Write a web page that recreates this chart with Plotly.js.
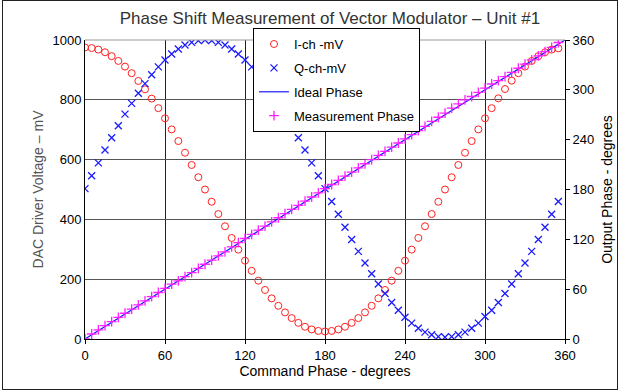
<!DOCTYPE html>
<html>
<head>
<meta charset="utf-8">
<script src="https://cdn.plot.ly/plotly-3.0.1.min.js"></script>
<style>
  html, body { margin: 0; padding: 0; background: #fff; }
  #wrap { position: relative; width: 619px; height: 391px; }
  #chart { width: 619px; height: 391px; }
  #frame { position: absolute; left: 2px; top: 0px; width: 614px; height: 388px; border: 1px solid #222; pointer-events: none; }
</style>
</head>
<body>
<div id="wrap"><div id="chart"></div><div id="frame"></div></div>
<script>
// Command phase in degrees
const commandPhase = [0,5,10,15,20,25,30,35,40,45,50,55,60,65,70,75,80,85,90,95,100,105,110,115,120,125,130,135,140,145,150,155,160,165,170,175,180,185,190,195,200,205,210,215,220,225,230,235,240,245,250,255,260,265,270,275,280,285,290,295,300,305,310,315,320,325,330,335,340,345,350,355];

// I channel (mV)
const iChannel = [975,973,968,959,946,930,911,889,863,835,804,772,738,701,662,623,582,541,500,459,418,377,338,299,262,228,195,164,136,111,89,70,54,41,32,27,25,27,32,41,54,70,89,111,136,164,195,228,262,299,338,377,418,459,500,541,582,623,662,701,738,772,805,836,864,889,911,930,946,959,968,972];

// Q channel (mV)
const qChannel = [503,546,589,632,673,713,752,788,822,854,884,910,933,953,970,983,992,998,1000,998,992,983,970,953,933,910,884,854,822,788,752,713,673,632,589,546,503,460,417,374,333,293,254,218,184,152,122,96,73,53,36,23,14,8,6,8,14,23,36,53,75,96,122,152,184,218,254,293,333,374,417,460];

// Ideal phase (degrees)
const idealX = [0,360];
const idealPhase = [0,360];

// Measured output phase (degrees)
const measuredPhase = [0,6,11,16,21,26,31,36,41,46,51,56,61,66,70,75,80,85,90,95,100,105,111,116,121,126,131,136,141,146,151,156,161,166,171,176,181,186,191,196,201,206,211,216,221,226,231,236,241,246,251,256,262,267,272,278,283,288,292,297,302,307,311,316,321,326,331,336,341,346,351,357];

const leftTicks = [0,200,400,600,800,1000];
const rightTicks = [0,60,120,180,240,300,360];
const xTicks = [0,60,120,180,240,300,360];

const font = "Liberation Sans, Arial, sans-serif";

const traces = [
  {x: commandPhase, y: iChannel, name: 'I-ch -mV', mode: 'markers', type: 'scatter', legendgroup: 'a',
   marker: {symbol: 'circle-open', size: 7, color: '#ff2020', line: {width: 1}}},
  {x: commandPhase, y: qChannel, name: 'Q-ch-mV', mode: 'markers', type: 'scatter', legendgroup: 'b',
   marker: {symbol: 'x-thin-open', size: 7, color: '#1a1aff', line: {width: 1.3, color: '#1a1aff'}}},
  {x: idealX, y: idealPhase, name: 'Ideal Phase', mode: 'lines', type: 'scatter', yaxis: 'y2', legendgroup: 'c',
   line: {color: '#1a1aff', width: 1.2}},
  {x: commandPhase, y: measuredPhase, name: 'Measurement Phase', mode: 'markers', type: 'scatter', yaxis: 'y2', legendgroup: 'd',
   marker: {symbol: 'cross-thin-open', size: 7, color: '#ff20ff', line: {width: 1.3, color: '#ff20ff'}}}
];

const layout = {
  width: 619, height: 391,
  margin: {l: 85, r: 54, t: 40, b: 52},
  paper_bgcolor: '#fff', plot_bgcolor: '#fff',
  font: {family: font, size: 12, color: '#000'},
  title: {text: 'Phase Shift Measurement of Vector Modulator \u2013 Unit #1', font: {family: font, size: 17, color: '#333'},
          x: 0.533, xanchor: 'center', y: 0.955, yanchor: 'middle'},
  showlegend: true,
  legend: {x: 0.35, xanchor: 'left', y: 1.04, yanchor: 'top', bgcolor: '#fff', bordercolor: '#000', borderwidth: 1,
           font: {family: font, size: 13, color: '#000'}, tracegroupgap: 4, itemwidth: 30},
  xaxis: {range: [0,360], tickvals: xTicks, ticktext: xTicks.map(String), showgrid: true, gridcolor: '#222', gridwidth: 1,
          zeroline: false, showline: true, linecolor: '#000', linewidth: 1, mirror: false,
          ticks: 'outside', ticklen: 4, tickcolor: '#000',
          title: {text: 'Command Phase - degrees', font: {family: font, size: 14, color: '#000'}, standoff: 2},
          tickfont: {family: font, size: 13}},
  yaxis: {range: [0,1000], tickvals: leftTicks, ticktext: leftTicks.map(String), showgrid: true, gridcolor: '#555', gridwidth: 1,
          zeroline: false, showline: true, linecolor: '#000', linewidth: 1, ticks: '',
          title: {text: 'DAC Driver Voltage \u2013 mV', font: {family: font, size: 14, color: '#555'}, standoff: 5},
          tickfont: {family: font, size: 13}},
  yaxis2: {range: [0,360], overlaying: 'y', side: 'right', tickvals: rightTicks, ticktext: rightTicks.map(String),
           showgrid: false, zeroline: false, showline: true, linecolor: '#000', linewidth: 1,
           ticks: 'outside', ticklen: 4, tickcolor: '#000',
           title: {text: 'Output Phase - degrees', font: {family: font, size: 14, color: '#000'}, standoff: 8},
           tickfont: {family: font, size: 13}},
  shapes: [
    {type: 'line', xref: 'paper', yref: 'paper', x0: 0, x1: 1, y0: 1, y1: 1, line: {color: '#999', width: 1}}
  ]
};

Plotly.newPlot('chart', traces, layout, {displayModeBar: false, staticPlot: true});
</script>
</body>
</html>
